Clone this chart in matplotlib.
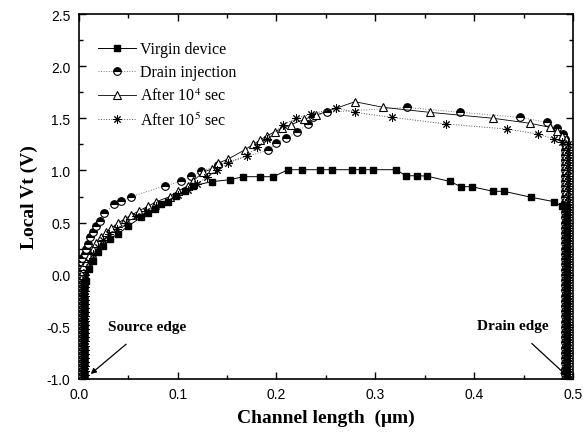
import matplotlib
matplotlib.use("Agg")
import matplotlib.pyplot as plt
from matplotlib.ticker import MultipleLocator

# local Vt profiles (x in um, Vt in V)
virgin_x = [0.0074, 0.0108, 0.0142, 0.0192, 0.0243, 0.0311, 0.0395, 0.0496, 0.063, 0.0698,
            0.0766, 0.0833, 0.090, 0.0985, 0.107, 0.1154, 0.1343, 0.1528, 0.1663, 0.183,
            0.1967, 0.2118, 0.2254, 0.244, 0.2558, 0.276, 0.287, 0.298, 0.321, 0.331,
            0.342, 0.352, 0.3755, 0.3866, 0.3975, 0.419, 0.430, 0.458, 0.481, 0.4886]
virgin_y = [-0.058, 0.055, 0.134, 0.215, 0.278, 0.342, 0.39, 0.464, 0.55, 0.59,
            0.63, 0.678, 0.694, 0.757, 0.805, 0.853, 0.892, 0.911, 0.94, 0.94,
            0.94, 1.007, 1.007, 1.007, 1.007, 1.007, 1.007, 1.007, 1.007, 0.949,
            0.949, 0.946, 0.895, 0.844, 0.844, 0.80, 0.80, 0.742, 0.70, 0.656]

drain_x = [0.0058, 0.0074, 0.0091, 0.0118, 0.0142, 0.0175, 0.021, 0.026, 0.0361, 0.0428,
           0.0529, 0.0873, 0.1035, 0.1137, 0.1238, 0.1407, 0.1916, 0.200, 0.210, 0.2203,
           0.232, 0.237, 0.2507, 0.3317, 0.3856, 0.4464, 0.4734, 0.4835, 0.490]
drain_y = [0.198, 0.246, 0.294, 0.359, 0.407, 0.464, 0.518, 0.592, 0.678, 0.704,
           0.748, 0.853, 0.896, 0.943, 0.991, 1.052, 1.196, 1.26, 1.311, 1.365,
           1.445, 1.509, 1.557, 1.605, 1.557, 1.509, 1.461, 1.404, 1.349]

t4_x = [0.0074, 0.0108, 0.0142, 0.0175, 0.0226, 0.0276, 0.0327, 0.0395, 0.0463, 0.0529,
        0.0614, 0.0698, 0.0782, 0.0918, 0.1002, 0.1103, 0.1154, 0.1255, 0.1343, 0.141,
        0.1511, 0.168, 0.1764, 0.1832, 0.19, 0.198, 0.206, 0.215, 0.228, 0.24,
        0.2794, 0.308, 0.3553, 0.4193, 0.4565, 0.4767, 0.4835, 0.4886]
t4_y = [0.119, 0.182, 0.246, 0.301, 0.359, 0.407, 0.445, 0.496, 0.534, 0.572,
        0.614, 0.656, 0.70, 0.748, 0.80, 0.853, 0.896, 0.982, 1.013, 1.071,
        1.109, 1.198, 1.25, 1.29, 1.33, 1.37, 1.404, 1.44, 1.49, 1.53,
        1.659, 1.605, 1.557, 1.50, 1.452, 1.413, 1.381, 1.333]

t5_x = [0.0074, 0.0108, 0.0142, 0.0192, 0.0243, 0.031, 0.039, 0.048, 0.058, 0.068,
        0.078, 0.09, 0.1, 0.11, 0.12, 0.13, 0.14, 0.151, 0.1697, 0.18,
        0.19, 0.207, 0.22, 0.235, 0.2606, 0.2794, 0.3165, 0.372, 0.433, 0.465,
        0.4808, 0.4886]
t5_y = [0.03, 0.12, 0.2, 0.27, 0.33, 0.39, 0.44, 0.5, 0.56, 0.61,
        0.66, 0.71, 0.76, 0.81, 0.87, 0.94, 1.0, 1.07, 1.141, 1.22,
        1.3, 1.44, 1.5, 1.54, 1.6, 1.557, 1.509, 1.445, 1.397, 1.349,
        1.30, 1.27]

# dense measurement points at the source and drain edges (one column per curve)
left_edge_x = [0.0055, 0.003, 0.0045, 0.006]
right_edge_x = [0.4935, 0.4915, 0.4925, 0.4945]
left_edge_y = [-1.0, -0.96, -0.92, -0.88, -0.84, -0.8, -0.76, -0.72, -0.68, -0.64, -0.6,
               -0.56, -0.52, -0.48, -0.44, -0.4, -0.36, -0.32, -0.28, -0.24, -0.2, -0.16,
               -0.12, -0.08, -0.04, 0.0, 0.04, 0.08, 0.12, 0.16]
right_edge_y = [1.3, 1.25, 1.2, 1.15, 1.1, 1.05, 1.0, 0.95, 0.9, 0.85, 0.8, 0.75, 0.7,
                0.65, 0.6, 0.55, 0.5, 0.45, 0.4, 0.35, 0.3, 0.25, 0.2, 0.15, 0.1, 0.05,
                0.0, -0.05, -0.1, -0.15, -0.2, -0.25, -0.3, -0.35, -0.4, -0.45, -0.5,
                -0.55, -0.6, -0.65, -0.7, -0.75, -0.8, -0.85, -0.9, -0.95, -1.0]

labels = ["Virgin device", "Drain injection", "After 10$^4$ sec", "After 10$^5$ sec"]


def with_edges(xs, ys, i):
    ly = [v for v in left_edge_y if v < ys[0]]
    ry = [v for v in right_edge_y if v < ys[-1]]
    return ([left_edge_x[i]] * len(ly) + xs + [right_edge_x[i]] * len(ry),
            ly + ys + ry)


plt.rcParams["mathtext.fontset"] = "stix"
plt.rcParams["axes.unicode_minus"] = False
fig = plt.figure(figsize=(5.88, 4.39), dpi=100)
ax = fig.add_axes([0.134, 0.1344, 0.8405, 0.8314])

x, y = with_edges(virgin_x, virgin_y, 0)
ax.plot(x, y, color="black", lw=0.7, marker="s", ms=5, mfc="black", mec="black",
        label=labels[0], zorder=4)
x, y = with_edges(drain_x, drain_y, 1)
ax.plot(x, y, color="#777777", lw=0.7, ls=":", marker="o", ms=5.5, fillstyle="top",
        mfc="black", mfcalt="white", mec="black", mew=0.8, label=labels[1], zorder=3)
x, y = with_edges(t4_x, t4_y, 2)
ax.plot(x, y, color="black", lw=0.6, marker="^", ms=6, mfc="white", mec="black",
        mew=0.8, label=labels[2], zorder=3)
x, y = with_edges(t5_x, t5_y, 3)
ax.plot(x, y, color="#555555", lw=0.7, ls=":", marker=(8, 2, 0), ms=6,
        mec="black", mew=0.7, label=labels[3], zorder=3)

ax.set_xlim(0.0, 0.5)
ax.set_ylim(-1.0, 2.5)
ax.xaxis.set_major_locator(MultipleLocator(0.1))
ax.xaxis.set_minor_locator(MultipleLocator(0.05))
ax.yaxis.set_major_locator(MultipleLocator(0.5))
ax.yaxis.set_minor_locator(MultipleLocator(0.25))
ax.tick_params(which="both", direction="in", top=True, right=True, width=1)
ax.tick_params(which="major", length=5, labelsize=10, pad=6)
ax.tick_params(which="minor", length=3)
for lab in ax.get_xticklabels() + ax.get_yticklabels():
    lab.set_fontfamily("Liberation Sans")
for s in ax.spines.values():
    s.set_linewidth(1.2)

ax.set_xlabel("Channel length  (\u03bcm)", fontfamily="Liberation Serif",
              fontweight="bold", fontsize=14, labelpad=5)
ax.set_ylabel("Local Vt (V)", fontfamily="Liberation Serif", fontweight="bold",
              fontsize=14, labelpad=6)

leg = ax.legend(loc="upper left", bbox_to_anchor=(0.01, 0.965), frameon=False,
                handlelength=2.4, handletextpad=0.25, labelspacing=0.45,
                prop={"family": "Liberation Serif", "size": 11.5})

ax.annotate("Source edge", xy=(0.012, -0.952), xytext=(0.0688, -0.5),
            fontfamily="Liberation Serif", fontweight="bold", fontsize=11,
            ha="center", va="center",
            arrowprops=dict(arrowstyle="-|>", color="black", lw=0.9,
                            shrinkA=9, shrinkB=0, mutation_scale=8))
ax.annotate("Drain edge", xy=(0.4936, -0.968), xytext=(0.4388, -0.489),
            fontfamily="Liberation Serif", fontweight="bold", fontsize=11,
            ha="center", va="center",
            arrowprops=dict(arrowstyle="-|>", color="black", lw=0.9,
                            shrinkA=9, shrinkB=0, mutation_scale=8))

fig.savefig("out.png", dpi=100)
